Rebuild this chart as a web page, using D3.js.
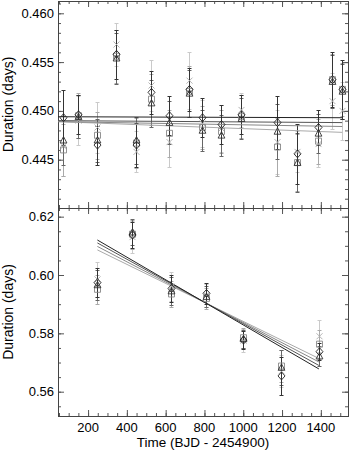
<!DOCTYPE html>
<html>
<head>
<meta charset="utf-8">
<script src="https://cdn.jsdelivr.net/npm/d3@7"></script>
<style>
  body { margin: 0; background: #fff; }
  text { font-family: "Liberation Sans", Arial, sans-serif; fill: #000; }
</style>
</head>
<body>
<svg id="chart" width="350" height="451"></svg>
<script>
// epochs (BJD - 2454900)
var timesTop = [69, 150, 248, 345, 446, 522, 618, 720, 789, 887, 990, 1175, 1275, 1385, 1458, 1510];
var timesBot = [248, 424, 630, 808, 1000, 1195, 1390];

// top panel durations, one array per method
var diaTop = [0.4493, 0.4496, 0.4465, 0.4558, 0.4465, 0.4519, 0.4495, 0.4522, 0.4493, 0.4486, 0.4496, 0.4488, 0.4456, 0.4483, 0.4532, 0.4522];
var triTop = [0.4470, 0.4494, 0.4470, 0.4554, 0.4470, 0.4508, 0.4488, 0.4518, 0.4480, 0.4475, 0.4492, 0.4479, 0.4447, 0.4477, 0.4530, 0.4520];
var sqTop  = [0.4460, 0.4495, 0.4475, 0.4556, 0.4467, 0.4512, 0.4477, 0.4520, 0.4483, 0.4479, 0.4494, 0.4463, 0.4447, 0.4469, 0.4532, 0.4522];
var xTop   = [0.4464, 0.4490, 0.4483, 0.4568, 0.4458, 0.4526, 0.4468, 0.4531, 0.4487, 0.4482, 0.4501, 0.4468, 0.4458, 0.4466, 0.4510, 0.4500];
var diaTopErr = [0.0028, 0.0020, 0.0020, 0.0025, 0.0023, 0.0022, 0.0020, 0.0022, 0.0020, 0.0020, 0.0020, 0.0027, 0.0031, 0.0018, 0.0028, 0.0030];
var triTopErr = [0.0025, 0.0022, 0.0022, 0.0026, 0.0024, 0.0024, 0.0022, 0.0024, 0.0021, 0.0021, 0.0021, 0.0028, 0.0030, 0.0020, 0.0027, 0.0028];
var sqTopErr  = [0.0027, 0.0023, 0.0024, 0.0027, 0.0026, 0.0026, 0.0024, 0.0026, 0.0022, 0.0022, 0.0022, 0.0030, 0.0029, 0.0023, 0.0026, 0.0027];
var xTopErr   = [0.0031, 0.0025, 0.0026, 0.0022, 0.0021, 0.0026, 0.0026, 0.0029, 0.0024, 0.0024, 0.0017, 0.0033, 0.0021, 0.0023, 0.0029, 0.0030];

// bottom panel durations
var diaBot = [0.5974, 0.6137, 0.5954, 0.5937, 0.5777, 0.5654, 0.5737];
var triBot = [0.5966, 0.6147, 0.5945, 0.5926, 0.5781, 0.5683, 0.5722];
var sqBot  = [0.5951, 0.6140, 0.5935, 0.5920, 0.5785, 0.5688, 0.5763];
var xBot   = [0.5985, 0.6130, 0.5960, 0.5930, 0.5775, 0.5670, 0.5790];
var diaBotErr = [0.0050, 0.0045, 0.0045, 0.0035, 0.0030, 0.0065, 0.0030];
var triBotErr = [0.0052, 0.0045, 0.0048, 0.0037, 0.0030, 0.0060, 0.0035];
var sqBotErr  = [0.0050, 0.0050, 0.0046, 0.0036, 0.0035, 0.0055, 0.0050];
var xBotErr   = [0.0060, 0.0055, 0.0050, 0.0038, 0.0040, 0.0055, 0.0055];

// linear fits: [value at start, value at end]
var fitTopT = [45, 1510];
var fitTop = [[0.4494, 0.4493], [0.4490, 0.4488], [0.4489, 0.4484], [0.4489, 0.4478]];
var fitBotT = [248, 1390];
var fitBot = [[0.6120, 0.5678], [0.6110, 0.5690], [0.6098, 0.5702], [0.6086, 0.5714]];

var xTicks = [200, 400, 600, 800, 1000, 1200, 1400];
var yTicksTop = [0.445, 0.450, 0.455, 0.460];
var yTicksBot = [0.56, 0.58, 0.60, 0.62];

var series = ["dia", "tri", "sq", "x"];
var markColor = { dia: "#222", tri: "#333", sq: "#888", x: "#aaa" };
var barColor  = { dia: "#333", tri: "#666", sq: "#aaa", x: "#cacaca" };
var fitColor  = ["#222", "#555", "#888", "#aaa"];

var svg = d3.select("#chart");
var left = 58, right = 348;

var x = d3.scaleLinear().domain([45, 1540]).range([left, right]);
function px(t) { return Math.round(x(t)) + 0.5; }

function symbolPath(kind) {
  if (kind === "dia") return "M0,-4L3.5,0L0,4L-3.5,0Z";
  if (kind === "tri") return "M0,-3.6L3.4,2.8L-3.4,2.8Z";
  if (kind === "sq") return "M-3,-3H3V3H-3Z";
  return "M-3,-3L3,3M-3,3L3,-3";
}

function panel(top, bottom, yDomain, yTicks, yMinorStep, yFormat, times, vals, errs, fitT, fits) {
  var y = d3.scaleLinear().domain(yDomain).range([bottom, top]);
  var g = svg.append("g");

  // ticks inward on all four sides
  var xMinor = d3.range(50, 1541, 50);
  var yMinor = d3.range(Math.ceil(yDomain[0] / yMinorStep) * yMinorStep, yDomain[1], yMinorStep);

  g.append("g").attr("transform", "translate(0," + bottom + ")")
    .call(d3.axisTop(x).tickValues(xMinor).tickSize(3).tickFormat(""));
  g.append("g").attr("transform", "translate(0," + bottom + ")")
    .call(d3.axisTop(x).tickValues(xTicks).tickSize(6).tickFormat(""));
  g.append("g").attr("transform", "translate(0," + top + ")")
    .call(d3.axisBottom(x).tickValues(xMinor).tickSize(3).tickFormat(""));
  g.append("g").attr("transform", "translate(0," + top + ")")
    .call(d3.axisBottom(x).tickValues(xTicks).tickSize(6).tickFormat(""));
  g.append("g").attr("transform", "translate(" + left + ",0)")
    .call(d3.axisRight(y).tickValues(yMinor).tickSize(3).tickFormat(""));
  g.append("g").attr("transform", "translate(" + left + ",0)")
    .call(d3.axisRight(y).tickValues(yTicks).tickSize(6).tickFormat(""));
  g.append("g").attr("transform", "translate(" + right + ",0)")
    .call(d3.axisLeft(y).tickValues(yMinor).tickSize(3).tickFormat(""));
  g.append("g").attr("transform", "translate(" + right + ",0)")
    .call(d3.axisLeft(y).tickValues(yTicks).tickSize(6).tickFormat(""));
  g.selectAll(".domain").remove();
  g.selectAll(".tick line").attr("stroke", "#555");

  g.append("rect").attr("x", left + 0.5).attr("y", top + 0.5)
    .attr("width", right - left).attr("height", bottom - top)
    .attr("fill", "none").attr("stroke", "#444").attr("stroke-width", 1);

  // tick labels
  g.selectAll(".ylab").data(yTicks).enter().append("text")
    .attr("x", left - 4).attr("y", d => y(d) + 4.5)
    .attr("text-anchor", "end").attr("font-size", 13)
    .text(d => d3.format(yFormat)(d));

  // error bars, lightest first
  series.slice().reverse().forEach(function (s) {
    var i = series.indexOf(s);
    var eb = g.append("g").attr("stroke", barColor[s]).attr("stroke-width", 1);
    times.forEach(function (t, k) {
      var cx = px(t);
      var lo = Math.round(y(vals[i][k] - errs[i][k])) + 0.5;
      var hi = Math.round(y(vals[i][k] + errs[i][k])) + 0.5;
      eb.append("line").attr("x1", cx).attr("x2", cx).attr("y1", lo).attr("y2", hi);
      eb.append("line").attr("x1", cx - 2).attr("x2", cx + 2).attr("y1", lo).attr("y2", lo);
      eb.append("line").attr("x1", cx - 2).attr("x2", cx + 2).attr("y1", hi).attr("y2", hi);
    });
  });

  // fit lines, lightest first
  fits.map((f, i) => ({ f: f, i: i })).reverse().forEach(function (o) {
    g.append("line")
      .attr("x1", x(fitT[0])).attr("y1", y(o.f[0]))
      .attr("x2", x(fitT[1])).attr("y2", y(o.f[1]))
      .attr("stroke", fitColor[o.i]).attr("stroke-width", 1);
  });

  // symbols
  series.slice().reverse().forEach(function (s) {
    var i = series.indexOf(s);
    g.selectAll(".m" + s).data(times).enter().append("path")
      .attr("transform", (t, k) => "translate(" + px(t) + "," + y(vals[i][k]) + ")")
      .attr("d", symbolPath(s))
      .attr("fill", "none")
      .attr("stroke", markColor[s]).attr("stroke-width", 0.9);
  });

  // y axis title
  g.append("text")
    .attr("transform", "translate(13," + ((top + bottom) / 2) + ") rotate(-90)")
    .attr("text-anchor", "middle").attr("font-size", 14)
    .text("Duration (days)");
  return y;
}

panel(1, 208, [0.44005, 0.46126], yTicksTop, 0.001, ".3f", timesTop,
  [diaTop, triTop, sqTop, xTop], [diaTopErr, triTopErr, sqTopErr, xTopErr], fitTopT, fitTop);
panel(208, 416, [0.55167, 0.62297], yTicksBot, 0.005, ".2f", timesBot,
  [diaBot, triBot, sqBot, xBot], [diaBotErr, triBotErr, sqBotErr, xBotErr], fitBotT, fitBot);

// x tick labels and title
svg.selectAll(".xlab").data(xTicks).enter().append("text")
  .attr("x", d => x(d)).attr("y", 432)
  .attr("text-anchor", "middle").attr("font-size", 13)
  .text(d => d);
svg.append("text").attr("x", (left + right) / 2).attr("y", 447)
  .attr("text-anchor", "middle").attr("font-size", 13.5)
  .text("Time (BJD - 2454900)");
</script>
</body>
</html>
